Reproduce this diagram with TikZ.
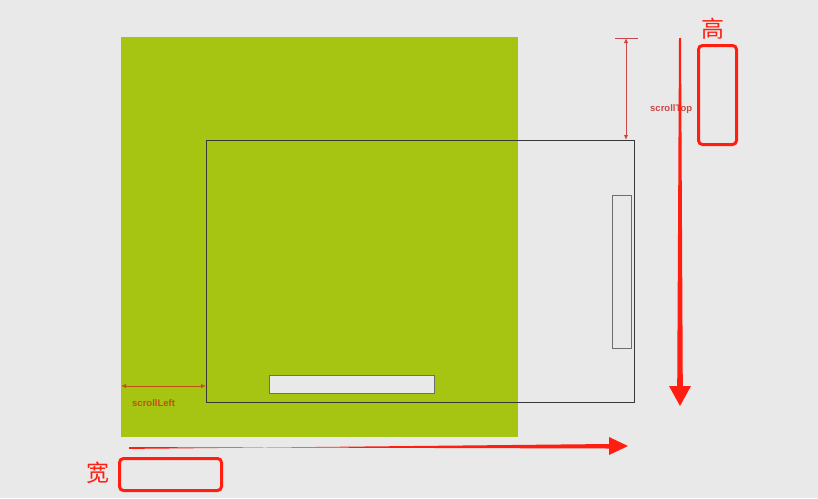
\documentclass[tikz,border=0pt]{standalone}
\usepackage{fontspec}
\setsansfont{Liberation Sans}
\newfontfamily\cjk{Noto Sans CJK SC}
\usetikzlibrary{arrows.meta}
\definecolor{bg}{RGB}{233,233,233}
\definecolor{leaf}{RGB}{166,197,18}
\definecolor{redarrow}{RGB}{255,30,16}
\definecolor{dimred}{RGB}{205,70,70}
\definecolor{dimbrown}{RGB}{190,80,20}
\definecolor{frame}{RGB}{55,55,55}
\definecolor{bargray}{RGB}{110,110,110}
\tikzset{
  box/.style={draw=frame, line width=1.1pt, minimum width=#1, anchor=north west, inner sep=0pt},
  bar/.style={draw=bargray, fill=bg, line width=1.1pt, anchor=north west, inner sep=0pt},
  dim/.style={draw=#1, line width=1pt, {Latex[length=5pt,width=4.5pt]}-{Latex[length=5pt,width=4.5pt]}},
  dimlabel/.style={font=\sffamily\bfseries\fontsize{9.5}{11}\selectfont, text=#1, inner sep=0pt},
  hilite/.style={draw=redarrow, line width=3pt, rounded corners=4pt, anchor=north west, inner sep=0pt},
  cjklabel/.style={font=\cjk\fontsize{23}{25}\selectfont, text=redarrow, inner sep=0pt},
}
\begin{document}
\begin{tikzpicture}[x=1pt,y=-1pt]
\fill[bg] (0,0) rectangle (818,498);
\useasboundingbox (0,0) rectangle (818,498);
% content area
\node[fill=leaf, minimum width=397pt, minimum height=400pt, anchor=north west, inner sep=0pt] (content) at (121,37) {};
% viewport
\node[box=428pt, minimum height=262pt] (view) at (206,140) {};
% scrollbars
\node[bar, minimum width=19pt, minimum height=153pt] (vbar) at (612,195) {};
\node[bar, minimum width=165pt, minimum height=18pt] (hbar) at (269,375) {};
% scrollTop
\coordinate (tTop) at (626,38);
\draw[draw=dimred, line width=1pt] (615,38) -- (638,38);
\draw[dim=dimred] (tTop) -- (view.north east -| tTop);
\node[dimlabel=dimred, anchor=west] (stLabel) at (650,109) {scrollTop};
% scrollLeft
\coordinate (lLeft) at (121,386);
\draw[dim=dimbrown] (lLeft) -- (lLeft -| view.west);
\node[dimlabel=dimbrown, anchor=west] (slLabel) at (132,403) {scrollLeft};
% red arrows
\coordinate (vTop) at (680,38);
\coordinate (vTip) at (680,406);
\fill[redarrow] ([xshift=-1pt]vTop) -- ([xshift=1pt]vTop) -- (682.8,386) -- (691,386) -- (vTip) -- (669,386) -- (677.2,386) -- cycle;
\coordinate (hStart) at (129,448);
\coordinate (hTip) at (628,446);
\fill[redarrow] ([yshift=-0.9pt]hStart) -- (609,444) -- (609,437) -- (hTip) -- (609,455) -- (609,448.5) -- ([yshift=0.9pt]hStart) -- cycle;
% highlight boxes
\node[hilite, minimum width=38pt, minimum height=99pt] (hiH) at (697,44) {};
\node[cjklabel] (gao) at (713,29) {高};
\node[hilite, minimum width=102pt, minimum height=32pt] (hiW) at (118,457) {};
\node[cjklabel] (kuan) at (98,473) {宽};
\end{tikzpicture}
\end{document}
